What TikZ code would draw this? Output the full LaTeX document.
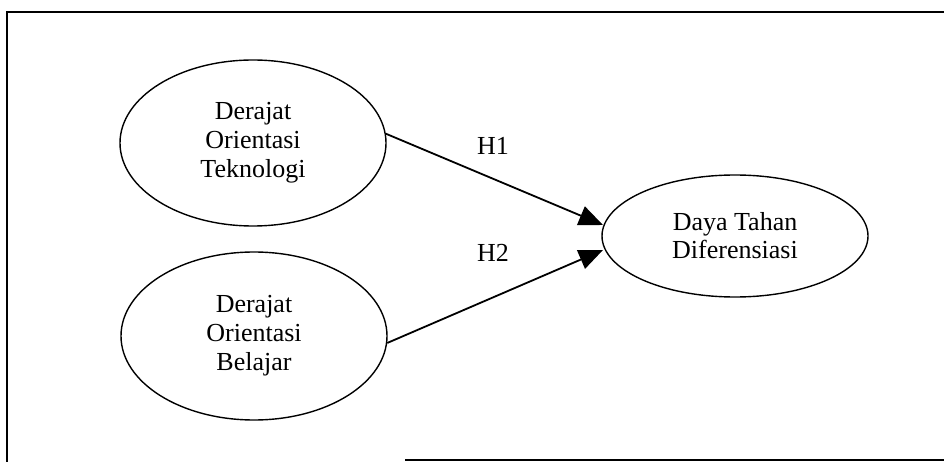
\documentclass[tikz,border=0pt]{standalone}
\usepackage{fontspec}
\setmainfont{Liberation Serif}
\usetikzlibrary{shapes.geometric,arrows.meta}
\begin{document}
\begin{tikzpicture}[x=1pt,y=-1pt,
  var/.style={draw,line width=1.4pt,ellipse,inner sep=0pt,align=center,
    font=\fontsize{26}{29}\selectfont},
  path/.style={line width=1.8pt,-{Triangle[length=24pt,width=20pt]}},
  hlab/.style={font=\fontsize{26}{29}\selectfont,inner sep=0pt}]
\useasboundingbox (0,0) rectangle (944,462);
\coordinate (ftl) at (7,12);
\coordinate (ftr) at (944,12);
\coordinate (fbl) at (7,462);
\coordinate (fb1) at (405,460);
\coordinate (fb2) at (944,460);
\draw[line width=1.6pt] (ftr) -- (ftl) -- (fbl);
\draw[line width=1.6pt] (fb1) -- (fb2);
\node[var,minimum width=266pt,minimum height=166pt] (e1) at (253,143)
  {Derajat\\Orientasi\\Teknologi};
\node[var,minimum width=266pt,minimum height=168pt] (e2) at (254,336)
  {Derajat\\Orientasi\\Belajar};
\node[var,minimum width=266pt,minimum height=122pt,
  font=\fontsize{26}{28}\selectfont] (e3) at (735,236)
  {Daya Tahan\\Diferensiasi};
\coordinate (t1) at (603,225);
\coordinate (t2) at (603,250);
\draw[path] (e1.4) -- (t1);
\draw[path] (e2.-3) -- (t2);
\node[hlab] (h1) at (493,146) {H1};
\node[hlab] (h2) at (493,253) {H2};
\end{tikzpicture}
\end{document}
